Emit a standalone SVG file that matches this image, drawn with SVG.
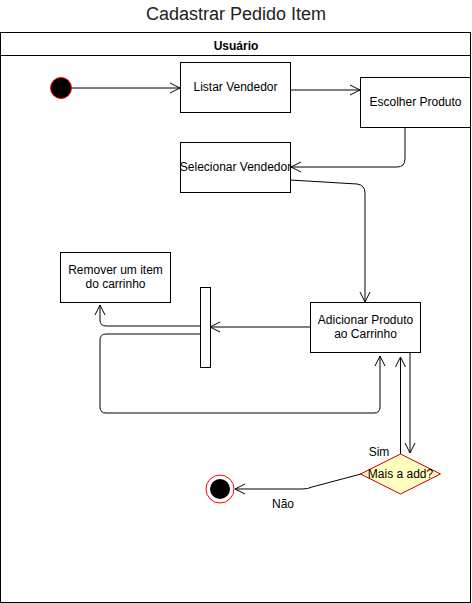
<svg xmlns="http://www.w3.org/2000/svg" width="472" height="603" viewBox="0 0 472 603">
<defs>
<style>
text{font-family:"Liberation Sans",Arial,sans-serif;font-size:12px;fill:#000}
.box{fill:#fff;stroke:#000;stroke-width:1}
.c{fill:none;stroke:#000;stroke-width:1}
</style>
<marker id="open" viewBox="0 0 12 12" refX="11" refY="6" markerWidth="12" markerHeight="12" markerUnits="userSpaceOnUse" orient="auto">
<path d="M1,1 L11,6 L1,11" fill="none" stroke="#000" stroke-width="1"/>
</marker>
</defs>
<rect width="472" height="603" fill="#fff"/>
<text x="236" y="20" text-anchor="middle" style="font-size:18px;fill:#222">Cadastrar Pedido Item</text>
<g id="pool">
<rect x="0.5" y="32.5" width="470" height="570" fill="#fff" stroke="#000"/>
<line x1="0.5" y1="55.5" x2="470.5" y2="55.5" stroke="#000"/>
<text x="236" y="50" text-anchor="middle" style="font-weight:bold">Usuário</text>
</g>
<g id="connectors">
<path class="c" d="M71,88 H180" marker-end="url(#open)"/>
<path class="c" d="M290,90 L360,90" marker-end="url(#open)"/>
<path class="c" d="M405,127 V159 Q405,167 397,167 H291" marker-end="url(#open)"/>
<path class="c" d="M290,180 L357,184 Q365,185 365,193 V302" marker-end="url(#open)"/>
<path class="c" d="M310,327 H210" marker-end="url(#open)"/>
<path class="c" d="M200,326 H106 Q100,326 100,320 V305" marker-end="url(#open)"/>
<path class="c" d="M200,334 H106 Q100,334 100,340 V407 Q100,413 106,413 H374 Q380,413 380,407 V356" marker-end="url(#open)"/>
<path class="c" d="M400.5,454 V357" marker-end="url(#open)"/>
<path class="c" d="M410,352 V453" marker-end="url(#open)"/>
<path class="c" d="M361,474 L312,487 Q308,489 302,489 H235" marker-end="url(#open)"/>
<text x="379" y="456" text-anchor="middle">Sim</text>
<text x="283" y="508" text-anchor="middle">Não</text>
</g>
<g id="start"><circle cx="61" cy="88" r="10.5" fill="#000" stroke="#ff0000"/></g>
<g id="listar"><rect class="box" x="180.5" y="62.5" width="110" height="50"/><text x="235.5" y="91" text-anchor="middle">Listar Vendedor</text></g>
<g id="escolher"><rect class="box" x="360.5" y="77.5" width="110" height="50"/><text x="415.5" y="106" text-anchor="middle">Escolher Produto</text></g>
<g id="selecionar"><rect class="box" x="180.5" y="142.5" width="110" height="50"/><text x="235.5" y="171" text-anchor="middle">Selecionar Vendedor</text></g>
<g id="adicionar"><rect class="box" x="310.5" y="302.5" width="110" height="50"/><text x="365.5" y="324" text-anchor="middle">Adicionar Produto</text><text x="365.5" y="338" text-anchor="middle">ao Carrinho</text></g>
<g id="remover"><rect class="box" x="60.5" y="252.5" width="110" height="50"/><text x="115.5" y="274" text-anchor="middle">Remover um item</text><text x="115.5" y="288" text-anchor="middle">do carrinho</text></g>
<g id="fork"><rect class="box" x="200.5" y="287.5" width="10" height="80"/></g>
<g id="decision"><path d="M400.5,454 L440.5,474 L400.5,494 L360.5,474 Z" fill="#ffffc0" stroke="#cc0000"/><text x="400.5" y="478" text-anchor="middle">Mais a add?</text></g>
<g id="end"><circle cx="220" cy="489" r="14" fill="#fff" stroke="#ff0000"/><circle cx="220" cy="489" r="10" fill="#000"/></g>
</svg>
